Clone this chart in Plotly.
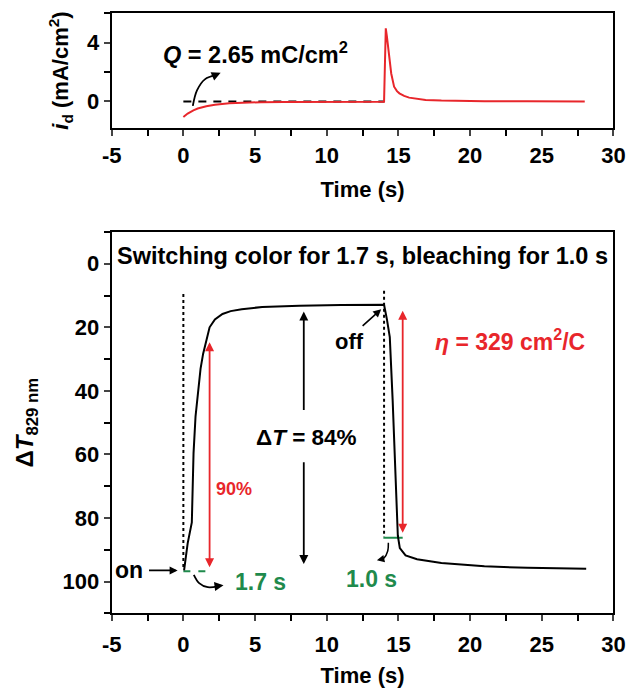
import plotly.graph_objects as go

# ---------------- data ----------------
# top panel: discharge current density i_d (mA/cm^2) vs time (s)
t_top = [0.0, 0.3, 0.7, 1.0, 1.6, 2.2, 3.2, 4.2, 5.4, 7.0, 9.0, 11.0, 13.0, 14.0,
         14.06, 14.12, 14.2, 14.3, 14.4, 14.5, 14.7, 14.9, 15.07, 15.4, 15.75,
         16.3, 16.9, 18.0, 19.0, 21.0, 24.0, 28.0]
i_top = [-1.05, -0.82, -0.6, -0.48, -0.33, -0.23, -0.13, -0.08, -0.05, -0.03, -0.02,
         -0.02, -0.02, -0.02, 2.5, 4.96, 4.4, 3.6, 2.9, 1.9, 1.0, 0.7, 0.55, 0.38,
         0.26, 0.16, 0.1, 0.06, 0.04, 0.02, 0.01, 0.0]

# baseline (dashed) in top panel
t_base = [0.0, 14.0]
i_base = [0.0, 0.0]

# bottom panel: transmittance change at 829 nm vs time (s)
t_bot = [0.05, 0.3, 0.59, 0.71, 0.85, 1.04, 1.2, 1.38, 1.56, 1.83, 2.2, 2.73, 3.3,
         4.07, 5.5, 8.1, 11.0, 14.0, 14.2, 14.4, 14.6, 14.8, 14.96, 15.1, 15.5,
         16.3, 18.0, 21.0, 24.0, 28.1]
dT_bot = [96.5, 88.0, 81.4, 59.6, 48.0, 39.8, 33.0, 28.3, 24.7, 20.0, 17.5, 15.8,
          14.9, 14.3, 13.6, 13.2, 13.0, 12.9, 17.5, 23.1, 43.0, 64.0, 85.6, 89.5,
          91.8, 93.0, 94.2, 95.2, 95.7, 96.0]

x_ticks = [-5, 0, 5, 10, 15, 20, 25, 30]
x_ticktext = ["-5", "0", "5", "10", "15", "20", "25", "30"]
y_top_ticks = [0, 4]
y_bot_ticks = [0, 20, 40, 60, 80, 100]

# switching reference markers
t_on, t_off = 0.0, 14.0
t_color90, t_bleach90 = 1.83, 15.3

FONT = "Liberation Sans"
RED = "#e8262b"
GREEN = "#1f8a4c"

fig = go.Figure()

# ---------------- traces ----------------
fig.add_trace(go.Scatter(x=t_base, y=i_base, mode="lines",
                         line=dict(color="black", width=2, dash="8px,7px"),
                         xaxis="x", yaxis="y", hoverinfo="skip"))
fig.add_trace(go.Scatter(x=t_top, y=i_top, mode="lines",
                         line=dict(color=RED, width=2),
                         xaxis="x", yaxis="y"))

# dotted vertical guide lines
fig.add_trace(go.Scatter(x=[t_on, t_on], y=[9.5, 96], mode="lines",
                         line=dict(color="black", width=2, dash="dot"),
                         xaxis="x2", yaxis="y2", hoverinfo="skip"))
fig.add_trace(go.Scatter(x=[t_off, t_off], y=[8.5, 86], mode="lines",
                         line=dict(color="black", width=2, dash="dot"),
                         xaxis="x2", yaxis="y2", hoverinfo="skip"))
# green markers of switching time
fig.add_trace(go.Scatter(x=[t_on, t_color90], y=[96.8, 96.8], mode="lines",
                         line=dict(color=GREEN, width=2, dash="7px,8px"),
                         xaxis="x2", yaxis="y2", hoverinfo="skip"))
fig.add_trace(go.Scatter(x=[13.95, t_bleach90], y=[86.2, 86.2], mode="lines",
                         line=dict(color=GREEN, width=2),
                         xaxis="x2", yaxis="y2", hoverinfo="skip"))

fig.add_trace(go.Scatter(x=t_bot, y=dT_bot, mode="lines",
                         line=dict(color="black", width=2),
                         xaxis="x2", yaxis="y2"))

# curved arrow shafts
fig.add_trace(go.Scatter(x=[0.66, 0.95, 1.5, 2.3], y=[-0.3, 0.75, 1.5, 1.8],
                         mode="lines", line=dict(color="black", width=1.8, shape="spline"),
                         xaxis="x", yaxis="y", hoverinfo="skip"))
fig.add_trace(go.Scatter(x=[0.73, 1.1, 1.7, 2.4], y=[97.9, 100.5, 101.8, 101.5],
                         mode="lines", line=dict(color="black", width=1.8, shape="spline"),
                         xaxis="x2", yaxis="y2", hoverinfo="skip"))
fig.add_trace(go.Scatter(x=[14.3, 14.25, 14.0, 13.7], y=[87.8, 90.5, 92.6, 93.2],
                         mode="lines", line=dict(color="black", width=1.5, shape="spline"),
                         xaxis="x2", yaxis="y2", hoverinfo="skip"))

# ---------------- annotations ----------------
ann = []


def txt(x, y, text, size, color="black", xref="x2", yref="y2", **kw):
    ann.append(dict(x=x, y=y, xref=xref, yref=yref, text=text, showarrow=False,
                    font=dict(family=FONT, size=size, color=color, weight="bold"), **kw))


def arrow(x, y, ax, ay, color="black", xref="x2", yref="y2", width=1.8, side="end", size=1.0):
    ann.append(dict(x=x, y=y, ax=ax, ay=ay, xref=xref, yref=yref, axref=xref, ayref=yref,
                    text="", showarrow=True, arrowhead=2, arrowsize=size, arrowwidth=width,
                    arrowcolor=color, arrowside=side))


# top panel
txt(5.0, 3.27, "<i>Q</i> = 2.65 mC/cm<sup>2</sup>", 23.5, xref="x", yref="y")
arrow(2.6, 1.95, 2.2, 1.78, xref="x", yref="y")

# bottom panel
txt(12.5, -2.4, "Switching color for 1.7 s, bleaching for 1.0 s", 23.5)
txt(11.6, 24.5, "off", 22)
arrow(13.8, 14.3, 12.4, 20.0, width=1.6)
txt(-3.8, 96.3, "on", 23)
arrow(-0.4, 96.5, -2.5, 96.5, width=1.6)
arrow(t_color90, 24.7, t_color90, 96.0, color=RED, side="end+start", width=1.8)
txt(3.5, 71, "90%", 18, color=RED)
arrow(2.8, 101.2, 2.3, 101.5)
txt(5.4, 100.2, "1.7 s", 23, color=GREEN)
arrow(8.4, 15.0, 8.4, 46.5)
txt(8.6, 54.8, "Δ<i>T</i> = 84%", 22.5, )
arrow(8.4, 94.5, 8.4, 62.0)
arrow(t_bleach90, 14.8, t_bleach90, 85.1, color=RED, side="end+start", width=1.8)
arrow(13.5, 93.3, 13.8, 93.0, width=1.5)
txt(13.15, 99.2, "1.0 s", 23, color=GREEN)
txt(22.8, 24.0, "<i>η</i> = 329 cm<sup>2</sup>/C", 23, color=RED)

# ---------------- axes ----------------
tickfont = dict(family=FONT, size=22, color="black", weight="bold")
titlefont = dict(family=FONT, size=22, color="black", weight="bold")
common_x = dict(range=[-5, 30], tickvals=x_ticks, ticktext=x_ticktext, ticks="outside",
                ticklen=6, tickwidth=2,
                showline=True, linewidth=2, linecolor="black", mirror=True,
                showgrid=False, zeroline=False, tickfont=tickfont,
                minor=dict(dtick=2.5, tick0=0, ticks="outside", ticklen=6, tickwidth=2,
                           tickcolor="black"),
                domain=[0.1648, 0.978])

fig.update_layout(
    width=639, height=688, margin=dict(l=0, r=0, t=0, b=0),
    paper_bgcolor="white", plot_bgcolor="white", showlegend=False,
    font=dict(family=FONT, size=20, color="black", weight="bold"),
    xaxis=dict(common_x, anchor="y", ticklabelstandoff=1,
               title=dict(text="Time (s)", font=titlefont, standoff=14)),
    yaxis=dict(domain=[0.814, 0.981], range=[-1.8, 6], tickvals=y_top_ticks, anchor="x",
               ticks="outside", ticklen=6, tickwidth=2, showline=True, linewidth=2,
               linecolor="black", mirror=True, showgrid=False, zeroline=False,
               tickfont=tickfont,
               minor=dict(dtick=2, tick0=0, ticks="outside", ticklen=6, tickwidth=2,
                          tickcolor="black"),
               title=dict(text="<i>i</i><sub>d</sub> (mA/cm<sup>2</sup>)", font=titlefont,
                          standoff=12)),
    xaxis2=dict(common_x, anchor="y2", ticklabelstandoff=4,
                title=dict(text="Time (s)", font=titlefont, standoff=16)),
    yaxis2=dict(domain=[0.1086, 0.6628], range=[110, -10], tickvals=y_bot_ticks, anchor="x2",
                ticks="outside", ticklen=6, tickwidth=2, showline=True, linewidth=2,
                linecolor="black", mirror=True, showgrid=False, zeroline=False,
                tickfont=tickfont,
                minor=dict(dtick=10, tick0=0, ticks="outside", ticklen=6, tickwidth=2,
                           tickcolor="black"),
                title=dict(text="Δ<i>T</i><sub>829 nm</sub>", font=dict(titlefont, size=24),
                           standoff=22)),
    annotations=ann,
)

fig.write_html("out.html")
